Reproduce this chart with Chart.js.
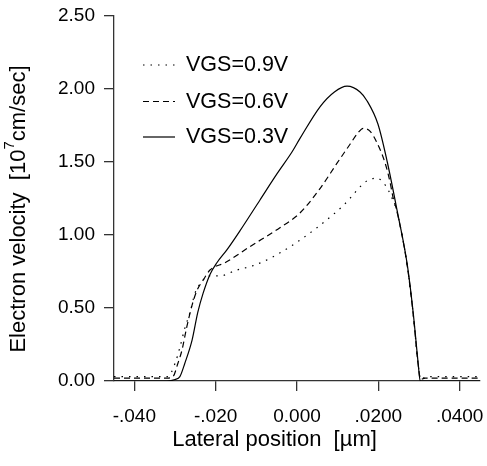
<!DOCTYPE html>
<html>
<head>
<meta charset="utf-8">
<script src="https://cdn.jsdelivr.net/npm/chart.js@4.4.0/dist/chart.umd.min.js"></script>
<style>
    body { margin: 0; background: #fff; }
    canvas { display: block; }
</style>
</head>
<body>
<canvas id="myChart" width="487" height="466"></canvas>
<script>

// lateral position [um]
const x09 = [-0.045, -0.0325, -0.0318, -0.0300, -0.0288, -0.0276, -0.0263, -0.0251, -0.0234, -0.0219, -0.0190, -0.0148, -0.0108, -0.0066, -0.0017, 0.0015, 0.0049, 0.0089, 0.0113, 0.0130, 0.0155, 0.0172, 0.0197, 0.0212, 0.0224, 0.0234, 0.0246, 0.0271, 0.0286, 0.0298, 0.0304, 0.0318, 0.045];
const v09 = [0.03, 0.03, 0.03, 0.12, 0.23, 0.36, 0.47, 0.60, 0.68, 0.72, 0.72, 0.76, 0.79, 0.84, 0.92, 0.98, 1.05, 1.14, 1.20, 1.25, 1.33, 1.37, 1.39, 1.36, 1.31, 1.25, 1.16, 0.79, 0.45, 0.11, 0.01, 0.03, 0.03];

const x06 = [-0.045, -0.032, -0.0305, -0.0293, -0.0283, -0.0271, -0.0258, -0.0246, -0.0231, -0.0214, -0.0177, -0.0116, -0.0042, 0.0007, 0.0057, 0.0098, 0.0130, 0.0150, 0.0163, 0.0180, 0.0197, 0.0217, 0.0229, 0.0236, 0.0246, 0.0271, 0.0286, 0.0298, 0.0304, 0.0315, 0.045];
const v06 = [0.02, 0.02, 0.03, 0.12, 0.21, 0.37, 0.52, 0.62, 0.69, 0.76, 0.81, 0.92, 1.05, 1.15, 1.32, 1.49, 1.62, 1.70, 1.73, 1.71, 1.63, 1.49, 1.36, 1.26, 1.16, 0.79, 0.45, 0.11, 0.01, 0.02, 0.02];

const x03 = [-0.045, -0.032, -0.0300, -0.0288, -0.0276, -0.0258, -0.0244, -0.0231, -0.0214, -0.0197, -0.0172, -0.0140, -0.0091, -0.0049, -0.0012, 0.0007, 0.0057, 0.0092, 0.0123, 0.0155, 0.0172, 0.0199, 0.0222, 0.0246, 0.0271, 0.0286, 0.0298, 0.0303, 0.045];
const v03 = [0, 0, 0.01, 0.03, 0.12, 0.28, 0.47, 0.60, 0.73, 0.81, 0.90, 1.03, 1.24, 1.42, 1.57, 1.66, 1.88, 1.98, 2.02, 1.98, 1.92, 1.76, 1.50, 1.17, 0.80, 0.46, 0.12, 0.00, 0];

const labels = ['VGS=0.9V', 'VGS=0.6V', 'VGS=0.3V'];

const xTickValues = [-0.04, -0.02, 0, 0.02, 0.04];
const xTickLabels = ['-.040', '-.020', '0.000', '.0200', '.0400'];
const yTickLabels = ['0.00', '0.50', '1.00', '1.50', '2.00', '2.50'];

const ctx = document.getElementById('myChart');
const font = '"Liberation Sans", Arial, Helvetica, sans-serif';
const axisColor = '#333';

const toPoints = (xs, ys) => xs.map((x, i) => ({ x: x, y: ys[i] }));

// legend + axis titles drawn by hand (titles are off-centre in the original)
const overlay = {
    id: 'overlay',
    afterDraw(chart) {
        const c = chart.ctx;
        c.save();
        c.fillStyle = '#000';
        c.textBaseline = 'middle';
        c.font = '21.5px ' + font;

        const rows = [65, 101.5, 137];
        chart.data.datasets.forEach((ds, i) => {
            c.strokeStyle = '#000';
            c.lineWidth = 1.2;
            c.setLineDash(ds.borderDash);
            c.beginPath();
            c.moveTo(143, rows[i]);
            c.lineTo(175, rows[i]);
            c.stroke();
            c.setLineDash([]);
            c.textAlign = 'left';
            c.fillText(ds.label, 186, rows[i] + 0.5);
        });

        c.font = '22px ' + font;
        c.textAlign = 'center';
        c.fillText('Lateral position  [\u00b5m]', 274.5, 440);

        // y title with superscript
        const a = 'Electron velocity  [10';
        const b = '7';
        const d = 'cm/sec]';
        c.font = '22px ' + font;
        const wa = c.measureText(a).width;
        const wd = c.measureText(d).width;
        c.font = '15px ' + font;
        const wb = c.measureText(b).width;
        const total = wa + wb + wd;
        c.translate(18.5, 209);
        c.rotate(-Math.PI / 2);
        c.textAlign = 'left';
        c.font = '22px ' + font;
        c.fillText(a, -total / 2, 0);
        c.font = '15px ' + font;
        c.fillText(b, -total / 2 + wa, -8.5);
        c.font = '22px ' + font;
        c.fillText(d, -total / 2 + wa + wb, 0);
        c.restore();
    }
};

const lineSet = (label, pts, dash) => ({
    label: label,
    data: pts,
    borderColor: '#000',
    borderWidth: 1.2,
    borderDash: dash,
    pointRadius: 0,
    fill: false,
    cubicInterpolationMode: 'monotone'
});

new Chart(ctx, {
    type: 'line',
    data: {
        datasets: [
            lineSet(labels[0], toPoints(x09, v09), [1.5, 6]),
            lineSet(labels[1], toPoints(x06, v06), [6, 4]),
            lineSet(labels[2], toPoints(x03, v03), [])
        ]
    },
    options: {
        responsive: false,
        animation: false,
        layout: { padding: { top: 16, right: 7, left: 0, bottom: 0 } },
        plugins: {
            legend: { display: false },
            tooltip: { enabled: false }
        },
        scales: {
            x: {
                type: 'linear',
                min: -0.045,
                max: 0.045,
                afterBuildTicks: (axis) => {
                    axis.ticks = xTickValues.map((v) => ({ value: v }));
                },
                afterFit: (axis) => {
                    axis.height = 85;
                    axis.paddingLeft = 0;
                    axis.paddingRight = 0;
                },
                ticks: {
                    padding: 14,
                    color: '#000',
                    maxRotation: 0,
                    font: { family: font, size: 19 },
                    callback: (v, i) => xTickLabels[i]
                },
                grid: { drawOnChartArea: false, drawTicks: true, tickLength: 10, color: axisColor, lineWidth: 1.3 },
                border: { display: true, color: axisColor, width: 1.3 }
            },
            y: {
                min: 0,
                max: 2.5,
                afterFit: (axis) => {
                    axis.width = 114;
                    axis.paddingTop = 0;
                    axis.paddingBottom = 0;
                },
                ticks: {
                    stepSize: 0.5,
                    padding: 9,
                    color: '#000',
                    font: { family: font, size: 19 },
                    callback: (v, i) => yTickLabels[i]
                },
                grid: { drawOnChartArea: false, drawTicks: true, tickLength: 10, color: axisColor, lineWidth: 1.3 },
                border: { display: true, color: axisColor, width: 1.3 }
            }
        }
    },
    plugins: [overlay]
});
</script>
</body>
</html>
